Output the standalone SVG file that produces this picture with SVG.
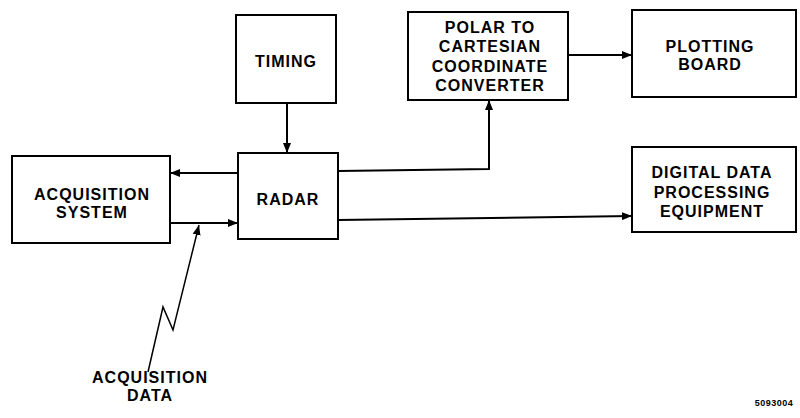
<svg xmlns="http://www.w3.org/2000/svg" width="800" height="418" viewBox="0 0 800 418">
<defs>
<style>
.box{fill:#fff;stroke:#000;stroke-width:2}
.ln{fill:none;stroke:#000;stroke-width:2}
.t{font-family:"Liberation Sans",Arial,sans-serif;font-weight:bold;font-size:16px;letter-spacing:1px;text-anchor:middle;fill:#000}
.s{font-family:"Liberation Sans",Arial,sans-serif;font-weight:bold;font-size:9px;letter-spacing:0.5px;text-anchor:middle;fill:#000}
</style>
<marker id="ah" viewBox="0 0 10 8" refX="10" refY="4" markerWidth="10" markerHeight="8" markerUnits="userSpaceOnUse" orient="auto">
<path d="M0,0 L10,4 L0,8 Z" fill="#000"/>
</marker>
</defs>
<rect width="800" height="418" fill="#fff"/>
<g id="timing"><rect class="box" x="236" y="15" width="100" height="88"/><text class="t" x="286" y="67">TIMING</text></g>
<g id="radar"><rect class="box" x="238" y="153" width="100" height="86"/><text class="t" x="288" y="205">RADAR</text></g>
<g id="acq"><rect class="box" x="12" y="156" width="158" height="87"/><text class="t" x="92" y="200">ACQUISITION</text><text class="t" x="92" y="218">SYSTEM</text></g>
<g id="polar"><rect class="box" x="408" y="12" width="160" height="88"/><text class="t" x="490" y="33">POLAR TO</text><text class="t" x="490" y="52">CARTESIAN</text><text class="t" x="490" y="72">COORDINATE</text><text class="t" x="490" y="91">CONVERTER</text></g>
<g id="plotting"><rect class="box" x="632" y="10" width="164" height="87"/><text class="t" x="710" y="52">PLOTTING</text><text class="t" x="710" y="70">BOARD</text></g>
<g id="digital"><rect class="box" x="632" y="147" width="164" height="85"/><text class="t" x="712" y="178">DIGITAL DATA</text><text class="t" x="712" y="198">PROCESSING</text><text class="t" x="712" y="217">EQUIPMENT</text></g>
<g id="label"><text class="t" x="150" y="383">ACQUISITION</text><text class="t" x="150" y="401">DATA</text><text class="s" x="774" y="406">5093004</text></g>
<g id="connectors">
<line class="ln" x1="287" y1="103" x2="287" y2="153" marker-end="url(#ah)"/>
<line class="ln" x1="238" y1="173" x2="170" y2="173" marker-end="url(#ah)"/>
<line class="ln" x1="170" y1="223" x2="238" y2="223" marker-end="url(#ah)"/>
<polyline class="ln" points="338,171 489,169 489,100" marker-end="url(#ah)"/>
<line class="ln" x1="568" y1="55" x2="632" y2="55" marker-end="url(#ah)"/>
<line class="ln" x1="338" y1="220" x2="632" y2="216" marker-end="url(#ah)"/>
<polyline fill="none" stroke="#000" stroke-width="1.5" points="148,372 163,307 173,330 199,225" marker-end="url(#ah)"/>
</g>
</svg>
